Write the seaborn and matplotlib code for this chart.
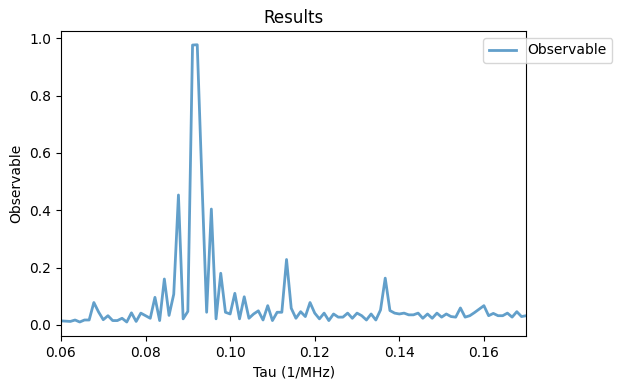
import numpy as np
import pandas as pd
import seaborn as sns
import matplotlib.pyplot as plt

# grid de tau (100 pontos entre 0.06 e 0.17)
tau = np.linspace(0.06, 0.17, 100)

# valores
observable = [
    0.014, 0.013, 0.012, 0.017, 0.010, 0.017, 0.017, 0.078, 0.045, 0.018,
    0.032, 0.015, 0.015, 0.023, 0.010, 0.042, 0.012, 0.041, 0.032, 0.023,
    0.096, 0.015, 0.160, 0.033, 0.107, 0.453, 0.021, 0.047, 0.976, 0.977,
    0.500, 0.044, 0.404, 0.021, 0.180, 0.044, 0.038, 0.110, 0.021, 0.098,
    0.023, 0.038, 0.049, 0.017, 0.067, 0.015, 0.044, 0.044, 0.228, 0.058,
    0.023, 0.046, 0.029, 0.078, 0.041, 0.021, 0.041, 0.015, 0.038, 0.027,
    0.027, 0.041, 0.023, 0.041, 0.032, 0.017, 0.038, 0.017, 0.052, 0.163,
    0.050, 0.041, 0.038, 0.041, 0.035, 0.035, 0.041, 0.023, 0.038, 0.023,
    0.041, 0.027, 0.038, 0.029, 0.027, 0.059, 0.027, 0.032, 0.043, 0.055,
    0.067, 0.032, 0.040, 0.032, 0.032, 0.041, 0.027, 0.046, 0.029, 0.032,
]

df = pd.DataFrame({"Tau": tau, "Observable": observable})

fig, ax = plt.subplots(figsize=(6.22, 3.91), dpi=100)
fig.subplots_adjust(left=0.098, right=0.846, top=0.921, bottom=0.141)

sns.lineplot(data=df, x="Tau", y="Observable", ax=ax, color="#1f77b4",
             alpha=0.7, linewidth=2, label="Observable")

ax.set_xlim(tau[0], tau[-1])
ax.set_title("Results")
ax.set_xlabel("Tau (1/MHz)")
ax.set_ylabel("Observable")
ax.legend(loc="upper right", bbox_to_anchor=(1.2, 1.0))

plt.savefig("out.png", dpi=100)
